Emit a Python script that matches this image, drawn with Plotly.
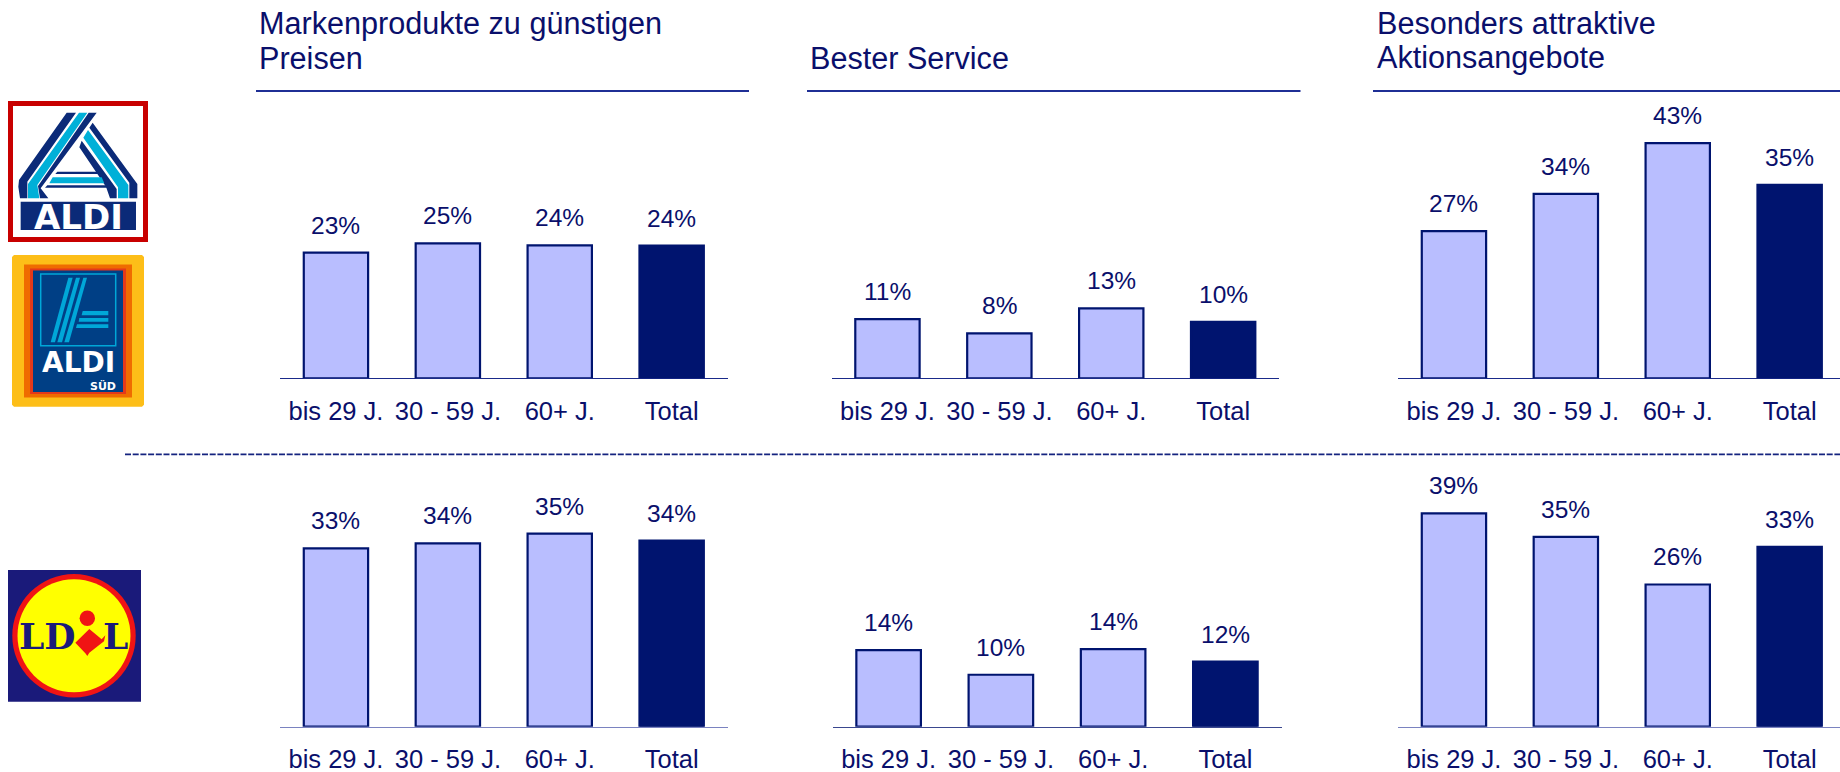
import plotly.graph_objects as go

W, H = 1840, 772

categories = ["bis 29 J.", "30 - 59 J.", "60+ J.", "Total"]

aldi_marken = [22.97, 24.68, 24.3, 24.25]
aldi_service = [10.8, 8.2, 12.8, 10.3]
aldi_aktion = [26.9, 33.7, 43.0, 35.35]
lidl_marken = [32.6, 33.5, 35.3, 34.0]
lidl_service = [14.0, 9.5, 14.2, 11.9]
lidl_aktion = [39.0, 34.7, 26.0, 32.9]

aldi_marken_labels = ["23%", "25%", "24%", "24%"]
aldi_service_labels = ["11%", "8%", "13%", "10%"]
aldi_aktion_labels = ["27%", "34%", "43%", "35%"]
lidl_marken_labels = ["33%", "34%", "35%", "34%"]
lidl_service_labels = ["14%", "10%", "14%", "12%"]
lidl_aktion_labels = ["39%", "35%", "26%", "33%"]

NAVY = "#00146f"
LIGHT = "#b9beff"
TEXT = "#0a0f6b"
RULE = "#1f2f95"
FONT = "Liberation Sans"
PX_PER_UNIT = 5.47

# (values, labels, axis left, axis right, row top, baseline, slot width, axis colour)
panels = [
    (aldi_marken, aldi_marken_labels, 280, 727.5, 100, 378.3, 111.9, "#1a2a8a"),
    (aldi_service, aldi_service_labels, 831.5, 1279, 100, 378.3, 111.9, "#1a2a8a"),
    (aldi_aktion, aldi_aktion_labels, 1398, 1840, 100, 378.3, 111.9, "#1a2a8a"),
    (lidl_marken, lidl_marken_labels, 280, 727.5, 460, 726.7, 111.9, "#7a82c0"),
    (lidl_service, lidl_service_labels, 832.5, 1281.5, 460, 726.7, 112.25, "#3a478f"),
    (lidl_aktion, lidl_aktion_labels, 1398, 1840, 460, 726.7, 111.9, "#7a82c0"),
]

fig = go.Figure()
layout = {}
annotations = []


def px(x):
    return x / W


def py(y):
    return 1 - y / H


for i, (vals, labs, left, right, top, base, slot, acol) in enumerate(panels, start=1):
    sfx = "" if i == 1 else str(i)
    xname, yname = "x" + sfx, "y" + sfx
    fig.add_trace(go.Bar(
        x=categories, y=vals, xaxis=xname, yaxis=yname, width=0.575,
        marker=dict(color=[LIGHT, LIGHT, LIGHT, NAVY], line=dict(color=NAVY, width=2.2)),
        showlegend=False, hoverinfo="skip", cliponaxis=False,
    ))
    layout["xaxis" + sfx] = dict(
        domain=[left / W, right / W], anchor=yname, type="category",
        categoryorder="array", categoryarray=categories,
        range=[-0.5, -0.5 + (right - left) / slot], automargin=False,
        showline=True, linecolor=acol, linewidth=1.2, layer="below traces",
        showgrid=False, zeroline=False, ticks="", ticklabelstandoff=10,
        tickfont=dict(family=FONT, size=25.5, color=TEXT),
    )
    layout["yaxis" + sfx] = dict(
        domain=[py(base), py(top)], anchor=xname, automargin=False,
        range=[0, (base - top) / PX_PER_UNIT],
        visible=False, showgrid=False, zeroline=False,
    )
    for c, v, t in zip(categories, vals, labs):
        annotations.append(dict(
            x=c, y=v, xref=xname, yref=yname, text=t, showarrow=False,
            yanchor="middle", xanchor="center", yshift=27.5,
            font=dict(family=FONT, size=24.5, color=TEXT),
        ))


def add_text(x, y, text, size, color=TEXT, anchor="left", family=FONT, bold=False):
    annotations.append(dict(
        x=px(x), y=py(y), xref="paper", yref="paper", text=f"<b>{text}</b>" if bold else text,
        showarrow=False, xanchor=anchor, yanchor="middle",
        font=dict(family=family, size=size, color=color), borderpad=0,
    ))


# panel headings
add_text(258, 23.5, "Markenprodukte zu günstigen", 30.6)
add_text(258, 57.5, "Preisen", 30.6)
add_text(809, 58, "Bester Service", 30.6)
add_text(1376, 23.5, "Besonders attraktive", 30.6)
add_text(1376, 57.5, "Aktionsangebote", 30.6)

shapes = []


def hline(x0, x1, y, color=RULE, width=2, dash="solid"):
    shapes.append(dict(type="line", xref="paper", yref="paper", x0=px(x0), x1=px(x1),
                       y0=py(y), y1=py(y), line=dict(color=color, width=width, dash=dash)))


hline(256, 749, 91)
hline(807, 1300.5, 91)
hline(1373, 1840, 91)
hline(125, 1840, 454.3, color="#14237f", width=1.8, dash="6px,1.7px")


def rect(x0, y0, x1, y1, fill, line=None, lw=0):
    shapes.append(dict(type="rect", xref="paper", yref="paper", x0=px(x0), x1=px(x1),
                       y0=py(y0), y1=py(y1), fillcolor=fill,
                       line=dict(color=line or fill, width=lw)))


def poly(pts, fill, ox=0, oy=0):
    """Logo polygon given in zoomed (3x) coordinates."""
    d = "M" + " L".join(f"{px(ox + a / 3):.5f},{py(oy + b / 3):.5f}" for a, b in pts) + " Z"
    shapes.append(dict(type="path", xref="paper", yref="paper", path=d, fillcolor=fill,
                       line=dict(width=0)))


def circle(cx, cy, r, fill):
    shapes.append(dict(type="circle", xref="paper", yref="paper", x0=px(cx - r), x1=px(cx + r),
                       y0=py(cy - r), y1=py(cy + r), fillcolor=fill, line=dict(width=0)))


# ALDI Nord logo
A_NAVY, A_CYAN = "#0b2a78", "#00b0d8"
rect(10.5, 103.5, 145.5, 239.5, "white", "#c80000", 5)
oy = 90
poly([(200, 68), (228, 68), (82, 275), (82, 325), (60, 325), (55, 290), (57, 270)], A_NAVY, 0, oy)
poly([(237, 68), (262, 68), (112, 285), (118, 325), (84, 325), (84, 282)], A_CYAN, 0, oy)
poly([(266, 68), (290, 68), (122, 295), (145, 325), (120, 325), (114, 288)], A_NAVY, 0, oy)
poly([(278, 98), (412, 282), (412, 325), (388, 325), (388, 278), (268, 113)], A_NAVY, 0, oy)
poly([(264, 120), (385, 285), (385, 325), (354, 325), (354, 292), (250, 143)], A_CYAN, 0, oy)
poly([(245, 152), (350, 297), (350, 325), (330, 325), (318, 290), (238, 172)], A_NAVY, 0, oy)
poly([(172, 245), (298, 245), (302, 252), (166, 252)], A_NAVY, 0, oy)
poly([(158, 262), (305, 262), (313, 280), (148, 280)], A_CYAN, 0, oy)
poly([(142, 286), (318, 286), (322, 293), (135, 293)], A_NAVY, 0, oy)
poly([(62, 335), (408, 335), (408, 420), (62, 420)], A_NAVY, 0, oy)
add_text(78, 216.5, "ALDI", 34, "white", "center", "DejaVu Sans", True)

# ALDI Süd logo
poly([(42, 495), (426, 495), (432, 501), (432, 944), (426, 950), (42, 950), (36, 944), (36, 501)],
     "#fdbe18", 0, oy)
rect(24, 264.5, 132, 397.5, "#ef6c00")
rect(30, 268.5, 126, 394, "#e4391a")
rect(33, 270.5, 123, 392, "#003f85")
rect(40.7, 274, 115.7, 345.7, "rgba(0,0,0,0)", "#00a7d8", 1.5)
for a, b, c, d in [(205, 218, 165, 152), (228, 240, 186, 172), (250, 261, 207, 193)]:
    poly([(a, 563), (b, 563), (c, 757), (d, 757)], "#00a7d8", 0, oy)
poly([(248, 663), (325, 663), (325, 676), (245, 676)], "#00a7d8", 0, oy)
poly([(238, 684), (325, 684), (325, 695), (236, 695)], "#00a7d8", 0, oy)
poly([(231, 703), (325, 703), (325, 714), (228, 714)], "#00a7d8", 0, oy)
add_text(78, 362, "ALDI", 28, "white", "center", "DejaVu Sans", True)
add_text(117, 385.5, "SÜD", 11, "white", "right", "DejaVu Sans", True)

# Lidl logo
rect(8, 570, 141, 701.7, "#1a1a7a")
circle(74, 635.7, 61.7, "#f01414")
circle(74, 635.7, 56.5, "#ffff00")
add_text(47, 635.5, "LD", 36, "#1a1a7a", "center", "DejaVu Serif", True)
add_text(115.5, 635.5, "L", 36, "#1a1a7a", "center", "DejaVu Serif", True)
circle(87.3, 618.3, 7.7, "#f01414")
poly([(226, 278), (268, 237), (305, 268), (316, 256), (312, 274), (268, 308), (262, 318), (256, 310)],
     "#f01414", 0, 550)

layout.update(
    width=W, height=H, autosize=False,
    margin=dict(l=0, r=0, t=0, b=0, pad=0, autoexpand=False),
    paper_bgcolor="white", plot_bgcolor="rgba(0,0,0,0)",
    showlegend=False,
    annotations=annotations, shapes=shapes,
    font=dict(family=FONT, color=TEXT),
)
fig.update_layout(**layout)

fig.write_html(
    "out.html",
    config=dict(displayModeBar=False),
    post_script="document.body.style.margin='0';document.body.style.overflow='hidden';",
)
